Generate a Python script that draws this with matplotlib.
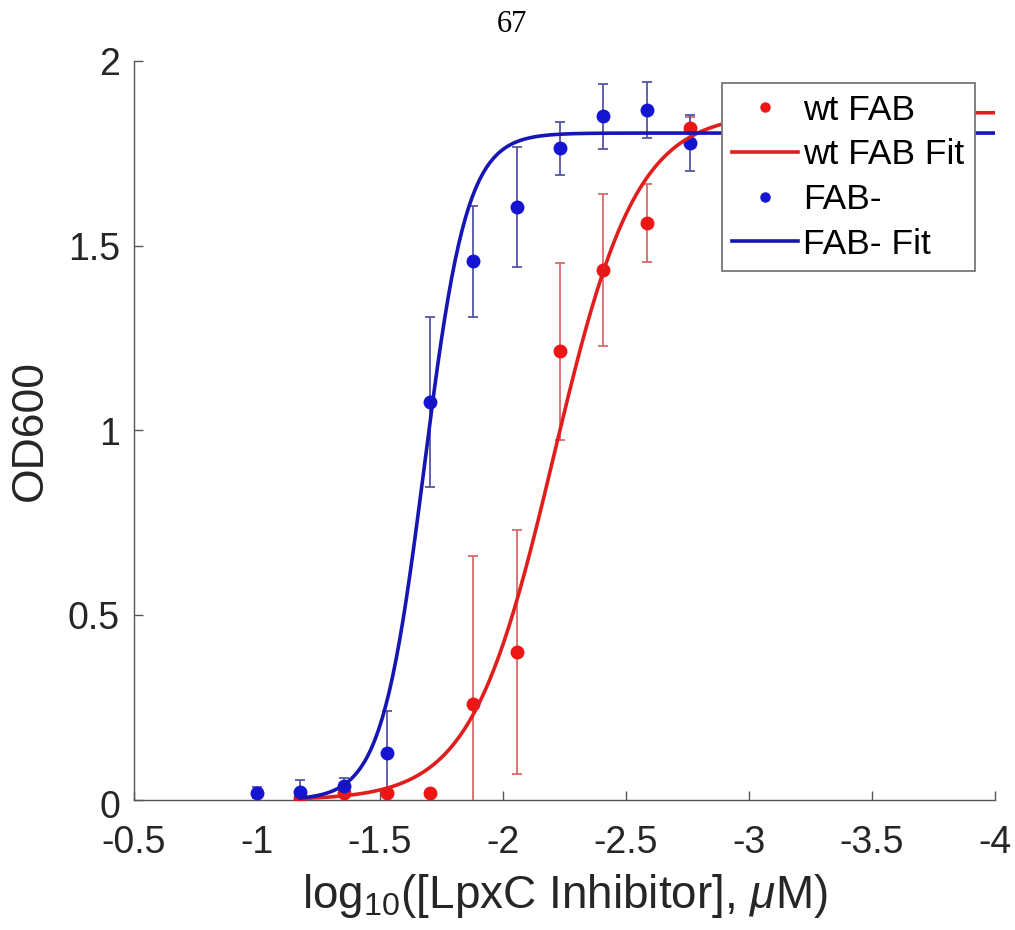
import numpy as np
import matplotlib
matplotlib.use('Agg')
import matplotlib.pyplot as plt
from matplotlib.lines import Line2D
from matplotlib.transforms import ScaledTranslation

plt.rcParams['font.family'] = ['Liberation Sans', 'DejaVu Sans']
plt.rcParams['mathtext.fontset'] = 'custom'
plt.rcParams['mathtext.rm'] = 'Liberation Sans'
plt.rcParams['mathtext.it'] = 'Liberation Sans:italic'
plt.rcParams['axes.unicode_minus'] = False

# log10 concentrations (1.5-fold dilutions)
x_blue = [-1.0, -1.176, -1.352, -1.528, -1.704, -1.880, -2.056, -2.232, -2.408, -2.584, -2.760]
y_blue = [0.02, 0.022, 0.038, 0.127, 1.076, 1.458, 1.604, 1.764, 1.850, 1.867, 1.778]
e_blue = [0.015, 0.032, 0.022, 0.114, 0.230, 0.150, 0.162, 0.072, 0.088, 0.075, 0.075]

x_red = [-1.176, -1.352, -1.528, -1.704, -1.880, -2.056, -2.232, -2.408, -2.584, -2.760]
y_red = [0.006, 0.019, 0.019, 0.019, 0.260, 0.400, 1.214, 1.434, 1.561, 1.818]
e_red = [0.0, 0.0, 0.0, 0.0, 0.400, 0.330, 0.240, 0.205, 0.105, 0.030]

# sigmoid fit parameters (top, logEC50, hill slope)
fit_red = (1.86, -2.206, 2.59)
fit_blue = (1.805, -1.68, 5.0)
fit_range = (-1.176, -4.0)

red = '#ee1515'
blue = '#1414d2'
red_line = '#e01e1e'
blue_line = '#1616b4'


def fit_curve(xs, top, x50, h):
    return top / (1 + 10 ** (h * (xs - x50)))


fig = plt.figure(figsize=(10.15, 9.3), dpi=100)
ax = fig.add_axes([134 / 1015, 1 - 800 / 930, (995 - 134) / 1015, (800 - 61) / 930])

ax.errorbar(x_red, y_red, yerr=e_red, fmt='o', color=red, ms=9,
            ecolor='#d86a6a', elinewidth=1.3, capsize=3.5, capthick=1.3, zorder=3)
ax.errorbar(x_blue, y_blue, yerr=e_blue, fmt='o', color=blue, ms=9,
            ecolor='#5656a6', elinewidth=1.3, capsize=3.5, capthick=1.3, zorder=3)

xs = np.linspace(fit_range[0], fit_range[1], 400)
ax.plot(xs, fit_curve(xs, *fit_red), color=red_line, lw=2.6, zorder=4)
ax.plot(xs, fit_curve(xs, *fit_blue), color=blue_line, lw=2.6, zorder=4)

ax.set_xlim(-0.5, -4)
ax.set_ylim(0, 2)
ax.set_xticks([-0.5, -1, -1.5, -2, -2.5, -3, -3.5, -4])
ax.set_xticklabels(['-0.5', '-1', '-1.5', '-2', '-2.5', '-3', '-3.5', '-4'])
ax.set_yticks([0, 0.5, 1, 1.5, 2])
ax.set_yticklabels(['0', '0.5', '1', '1.5', '2'])

for side in ['top', 'right']:
    ax.spines[side].set_visible(False)
for side in ['left', 'bottom']:
    ax.spines[side].set_color('#555555')
    ax.spines[side].set_linewidth(1.0)
ax.tick_params(direction='in', length=6.5, width=1.0, color='#555555',
               labelsize=27, labelcolor='#262626')
ax.tick_params(axis='x', pad=18)
ax.tick_params(axis='y', pad=10)

# the "0" label sits a little below its tick in the original
zero_lbl = ax.get_yticklabels()[0]
zero_lbl.set_transform(zero_lbl.get_transform() + ScaledTranslation(0, -4 / 100, fig.dpi_scale_trans))

ax.set_xlabel(r'log$_{10}$([LpxC Inhibitor], $\mu$M)', fontsize=33, color='#262626', labelpad=8)
ax.set_ylabel('OD600', fontsize=32, color='#262626', labelpad=12)

handles = [
    Line2D([], [], marker='o', ls='none', color=red, ms=6.5),
    Line2D([], [], color=red_line, lw=2.6),
    Line2D([], [], marker='o', ls='none', color=blue, ms=6.5),
    Line2D([], [], color=blue_line, lw=2.6),
]
labels = ['wt FAB', 'wt FAB Fit', 'FAB-', 'FAB- Fit']
leg = ax.legend(handles, labels, loc='upper right', bbox_to_anchor=(975 / 1015, 1 - 83 / 930),
                bbox_transform=fig.transFigure, borderaxespad=0, fontsize=25.5,
                handlelength=1.85, handletextpad=0.15, borderpad=0.3, labelspacing=0.33,
                fancybox=False, framealpha=1, edgecolor='#777777')
leg.get_frame().set_linewidth(1.3)
leg.set_zorder(6)

fig.text(512 / 1015, 1 - 25 / 930, '67', family='Liberation Serif', fontsize=22,
         ha='center', va='center')

fig.savefig('out.png', dpi=100)
